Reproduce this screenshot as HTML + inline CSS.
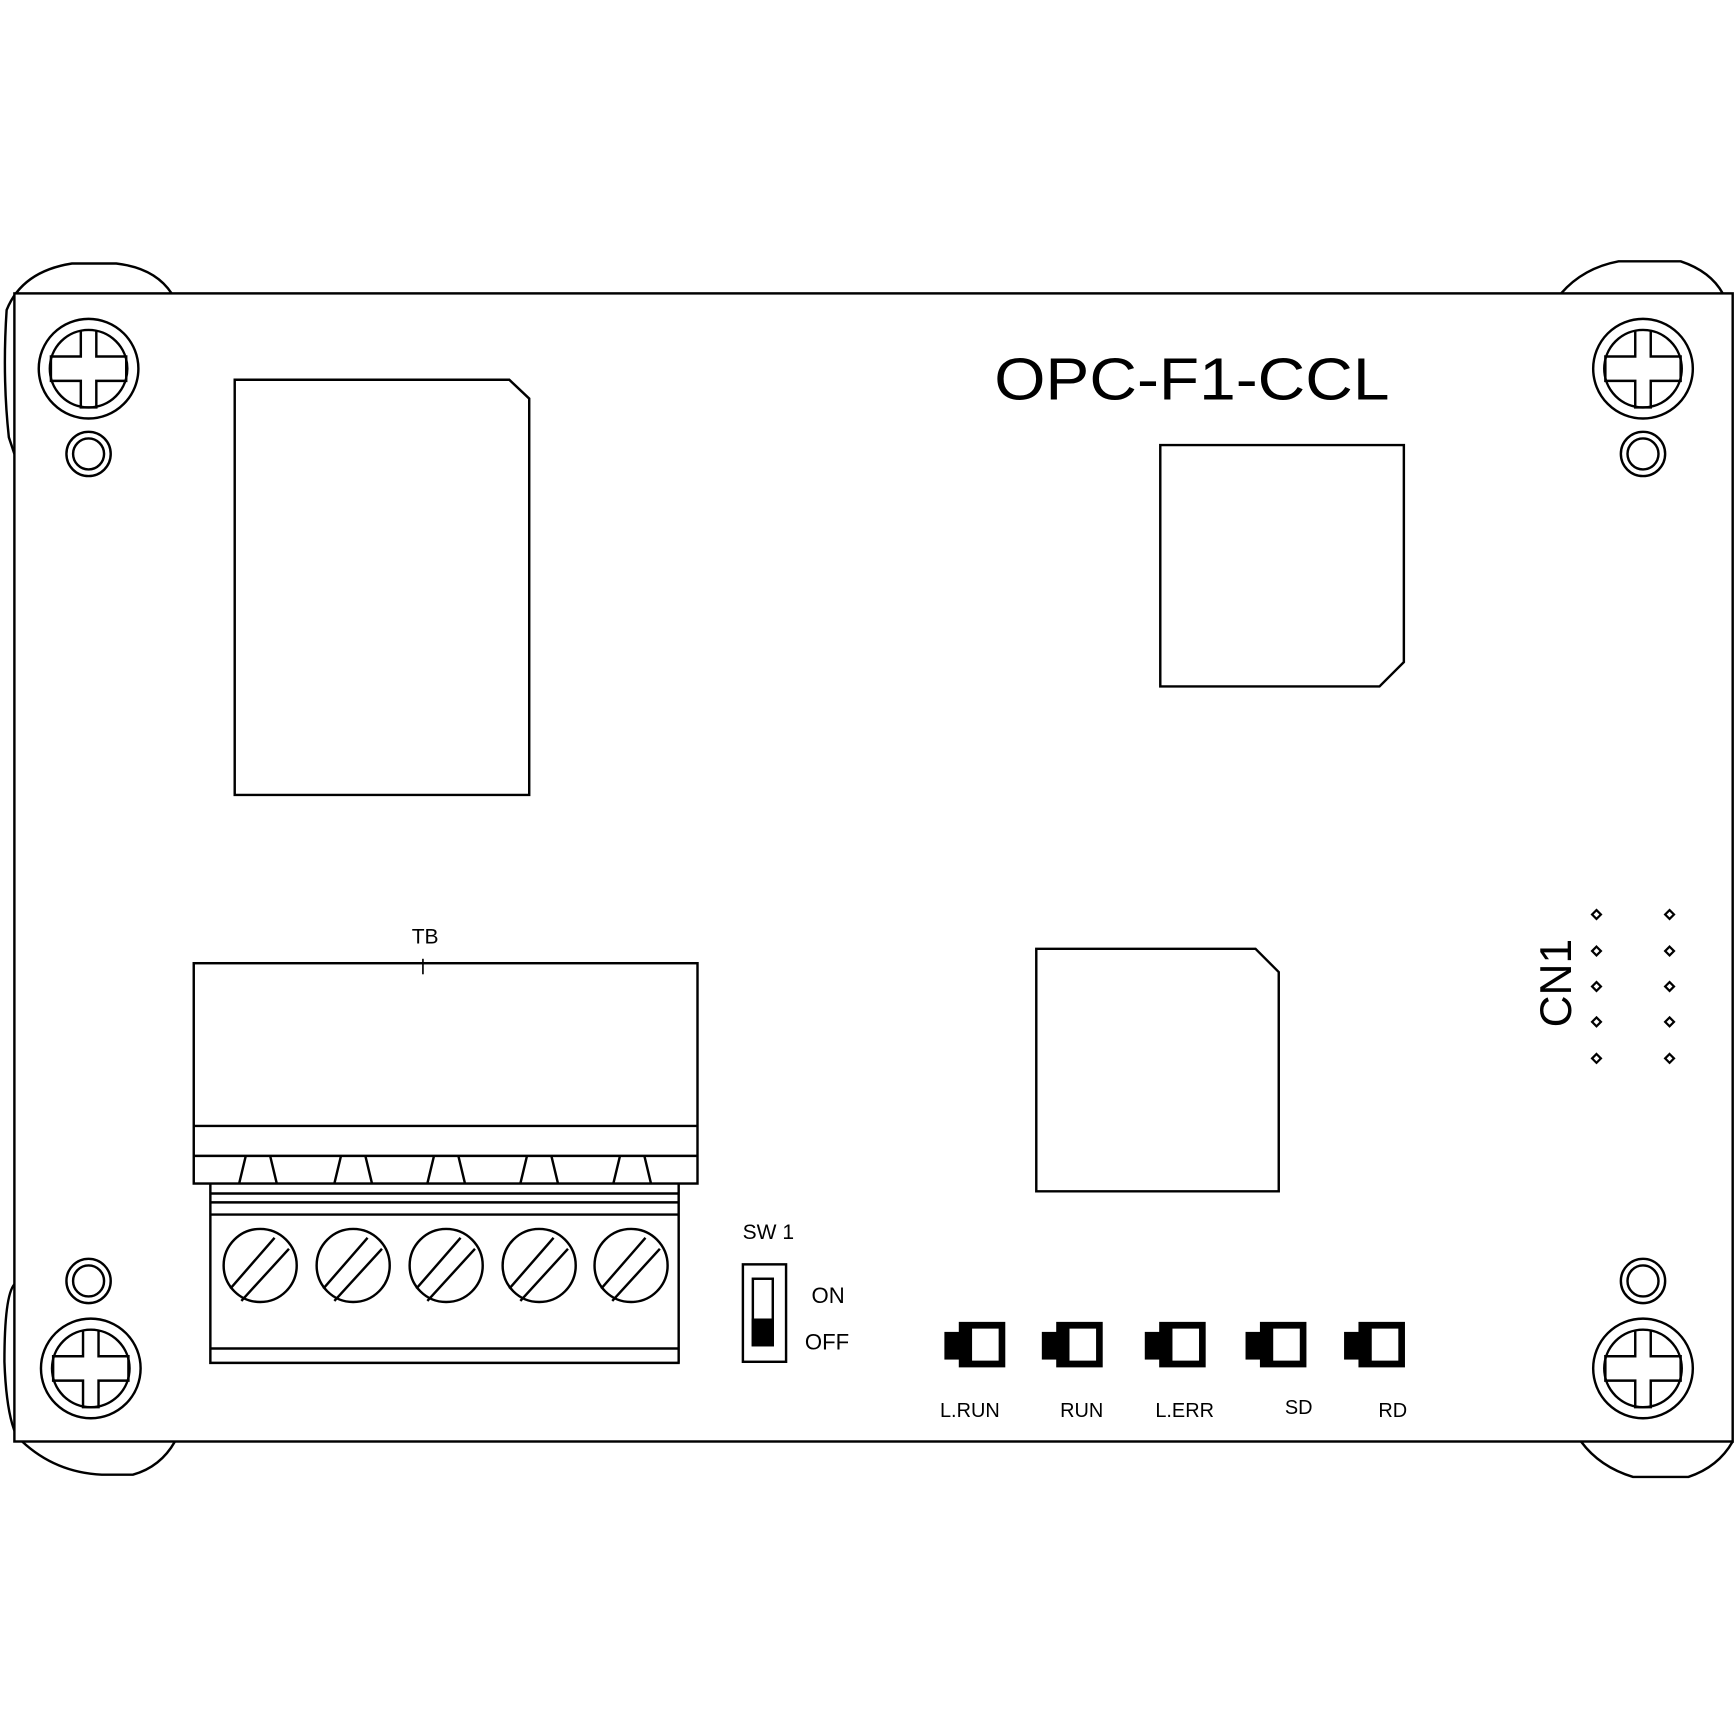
<!DOCTYPE html>
<html><head><meta charset="utf-8"><style>html,body{margin:0;padding:0;background:#fff}svg{display:block}</style></head>
<body>
<svg width="1736" height="1736" viewBox="0 0 1568 1568" xmlns="http://www.w3.org/2000/svg" font-family="Liberation Sans, sans-serif">
<g fill="none" stroke="#000" stroke-width="2.2">
<path d="M13,410 L8,395 Q2,340 6,280 Q20,245 65,238 L105,238 Q140,242 155,265"/>
<path d="M13,1160 Q4,1170 4,1230 Q6,1285 18,1302 M20,1302 Q50,1330 92,1332 L120,1332 Q145,1325 158,1302"/>
<path d="M1410,265 Q1430,242 1462,236 L1518,236 Q1545,245 1556,265"/>
<path d="M1428,1302 Q1445,1325 1475,1334 L1525,1334 Q1552,1325 1565,1302"/>
<rect x="13" y="265" width="1552" height="1037" fill="#fff"/>
<g id="sc">
<circle cx="80" cy="333" r="45"/><circle cx="80" cy="333" r="35"/>
<path d="M73,299 V322 H46 V344 H73 V368 H87 V344 H114 V322 H87 V299"/>
</g>
<use href="#sc" x="1404"/><use href="#sc" x="2" y="903"/><use href="#sc" x="1404" y="903"/>
<g id="sm"><circle cx="80" cy="410" r="20"/><circle cx="80" cy="410" r="14"/></g>
<use href="#sm" x="1404"/><use href="#sm" y="747"/><use href="#sm" x="1404" y="747"/>
<polygon points="212,343 460,343 478,360 478,718 212,718"/>
<polygon points="1048,402 1268,402 1268,598 1246,620 1048,620"/>
<polygon points="936,857 1134,857 1155,878 1155,1076 936,1076"/>
<rect x="175" y="870" width="455" height="199"/>
<line x1="175" y1="1017" x2="630" y2="1017"/>
<line x1="175" y1="1044" x2="630" y2="1044"/>
<path d="M222,1044 L216,1069 M244,1044 L250,1069 M308,1044 L302,1069 M330,1044 L336,1069 M392,1044 L386,1069 M414,1044 L420,1069 M476,1044 L470,1069 M498,1044 L504,1069 M560,1044 L554,1069 M582,1044 L588,1069"/>
<path d="M190,1069 V1231 H614 M613,1069 V1231"/>
<line x1="190" y1="1078" x2="613" y2="1078"/>
<line x1="190" y1="1086" x2="613" y2="1086"/>
<line x1="190" y1="1097" x2="613" y2="1097"/>
<line x1="190" y1="1218" x2="613" y2="1218"/>
<g id="ts"><circle cx="235" cy="1143" r="33"/><path d="M208,1164 L248,1118 M218,1175 L261,1128"/></g>
<use href="#ts" x="84"/><use href="#ts" x="168"/><use href="#ts" x="252"/><use href="#ts" x="335"/>
<line x1="382" y1="866" x2="382" y2="880" stroke-width="1.5"/>
<rect x="671" y="1142" width="39" height="88"/>
<rect x="680" y="1155" width="18" height="60"/>
<rect x="680" y="1192" width="18" height="23" fill="#000"/>
<g stroke-width="2">
<path d="M1442,822 l4,4 -4,4 -4,-4z M1508,822 l4,4 -4,4 -4,-4z M1442,855 l4,4 -4,4 -4,-4z M1508,855 l4,4 -4,4 -4,-4z M1442,887 l4,4 -4,4 -4,-4z M1508,887 l4,4 -4,4 -4,-4z M1442,919 l4,4 -4,4 -4,-4z M1508,919 l4,4 -4,4 -4,-4z M1442,952 l4,4 -4,4 -4,-4z M1508,952 l4,4 -4,4 -4,-4z"/>
</g>
</g>
<g fill="#000">
<g id="led"><rect x="853" y="1203" width="17" height="25"/><path d="M866,1194 H908 V1235 H866 Z M878,1200 V1229 H902 V1200 Z" fill-rule="evenodd"/></g>
<use href="#led" x="88"/><use href="#led" x="181"/><use href="#led" x="272"/><use href="#led" x="361"/>
</g>
<g fill="#000">
<text x="898" y="361" font-size="54" textLength="357" lengthAdjust="spacingAndGlyphs">OPC-F1-CCL</text>
<text x="384" y="852" font-size="19" text-anchor="middle">TB</text>
<text x="694" y="1119" font-size="19" text-anchor="middle">SW 1</text>
<text x="733" y="1177" font-size="20">ON</text>
<text x="727" y="1219" font-size="20">OFF</text>
<text x="876" y="1280" font-size="18" text-anchor="middle">L.RUN</text>
<text x="977" y="1280" font-size="18" text-anchor="middle">RUN</text>
<text x="1070" y="1280" font-size="18" text-anchor="middle">L.ERR</text>
<text x="1173" y="1277" font-size="18" text-anchor="middle">SD</text>
<text x="1258" y="1280" font-size="18" text-anchor="middle">RD</text>
<text x="0" y="0" font-size="40" text-anchor="middle" transform="translate(1419,888) rotate(-90)">CN1</text>
</g>
</svg>
</body></html>
